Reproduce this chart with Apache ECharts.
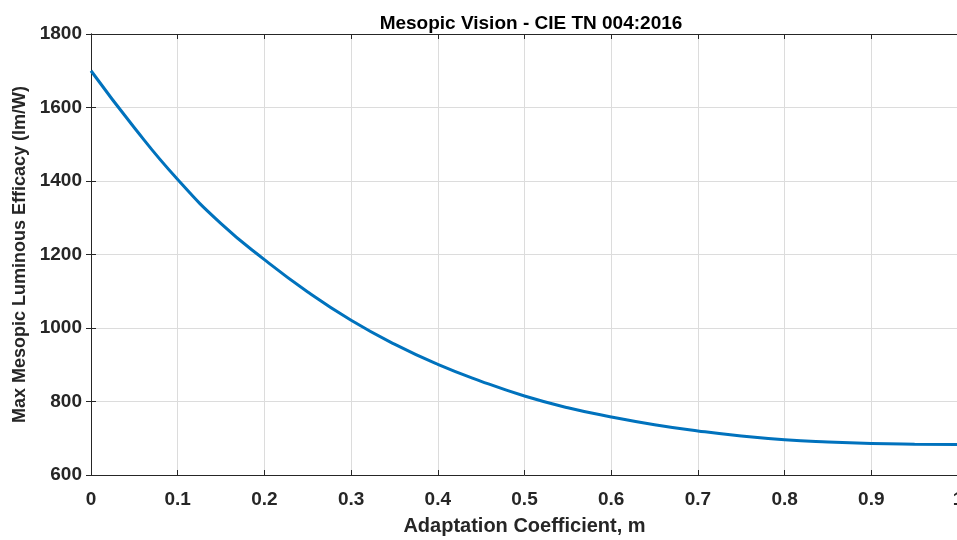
<!DOCTYPE html>
<html>
<head>
<meta charset="utf-8">
<script src="https://cdn.jsdelivr.net/npm/echarts@6/dist/echarts.min.js"></script>
<style>
  html, body { margin: 0; padding: 0; background: #fff; }
  #chart { width: 957px; height: 540px; }
</style>
</head>
<body>
<div id="chart"></div>
<script>
// adaptation coefficient m (read every 0.05)
var mValues = [0, 0.05, 0.1, 0.15, 0.2, 0.25, 0.3, 0.35, 0.4, 0.45, 0.5,
               0.55, 0.6, 0.65, 0.7, 0.75, 0.8, 0.85, 0.9, 0.95, 1];
// max mesopic luminous efficacy (lm/W)
var efficacy = [1700, 1545, 1404, 1284, 1186, 1098, 1021, 956, 901, 855, 815,
                783, 758, 737, 720, 706, 696, 690, 686, 684, 683];
var yTicks = [600, 800, 1000, 1200, 1400, 1600, 1800];

var font = "'Liberation Sans', Arial, Helvetica, sans-serif";
var ink = '#262626';

var points = mValues.map(function (m, i) { return [m, efficacy[i]]; });

var myChart = echarts.init(document.getElementById('chart'), null, { renderer: 'canvas' });

var boxAxis = {
  axisLine: { show: true, lineStyle: { color: ink, width: 1 } },
  axisTick: { show: true, inside: true, length: 5, lineStyle: { color: ink } },
  axisLabel: { show: false },
  splitLine: { show: false }
};

myChart.setOption({
  animation: false,
  backgroundColor: '#fff',
  title: {
    text: 'Mesopic Vision - CIE TN 004:2016',
    left: 526, top: 9, textAlign: 'center',
    textStyle: { fontFamily: font, fontSize: 19, fontWeight: 'bold', color: '#000' }
  },
  grid: { left: 91, top: 34, width: 867, height: 441, containLabel: false, outerBoundsMode: 'none' },
  xAxis: [
    {
      type: 'value', min: 0, max: 1, interval: 0.1, position: 'bottom',
      name: 'Adaptation Coefficient, m', nameLocation: 'middle', nameGap: 41,
      nameTextStyle: { fontFamily: font, fontSize: 20, fontWeight: 'bold', color: ink },
      axisLine: { show: true, onZero: false, lineStyle: { color: ink, width: 1 } },
      axisTick: { show: true, inside: true, length: 5, lineStyle: { color: ink } },
      axisLabel: {
        margin: 15, fontFamily: font, fontSize: 19, fontWeight: 'bold', color: ink,
        formatter: function (v) { return String(Math.round(v * 10) / 10); }
      },
      splitLine: { show: true, lineStyle: { color: '#dcdcdc', width: 1 } }
    },
    Object.assign({ type: 'value', min: 0, max: 1, interval: 0.1, position: 'top' }, boxAxis)
  ],
  yAxis: [
    {
      type: 'value', min: yTicks[0], max: yTicks[yTicks.length - 1], interval: 200, position: 'left',
      name: 'Max Mesopic Luminous Efficacy (lm/W)', nameLocation: 'middle', nameGap: 58,
      nameTextStyle: { fontFamily: font, fontSize: 18, fontWeight: 'bold', color: ink },
      axisLine: { show: true, onZero: false, lineStyle: { color: ink, width: 1 } },
      axisTick: { show: true, inside: true, length: 5, lineStyle: { color: ink } },
      axisLabel: {
        margin: 9, fontFamily: font, fontSize: 19, fontWeight: 'bold', color: ink,
        formatter: function (v) { return String(v); }
      },
      splitLine: { show: true, lineStyle: { color: '#dcdcdc', width: 1 } }
    },
    Object.assign({ type: 'value', min: 600, max: 1800, interval: 200, position: 'right' }, boxAxis)
  ],
  series: [
    {
      type: 'line',
      xAxisIndex: 0, yAxisIndex: 0,
      data: points,
      smooth: true,
      showSymbol: false,
      lineStyle: { color: '#0072BD', width: 3 }
    }
  ]
});
</script>
</body>
</html>
